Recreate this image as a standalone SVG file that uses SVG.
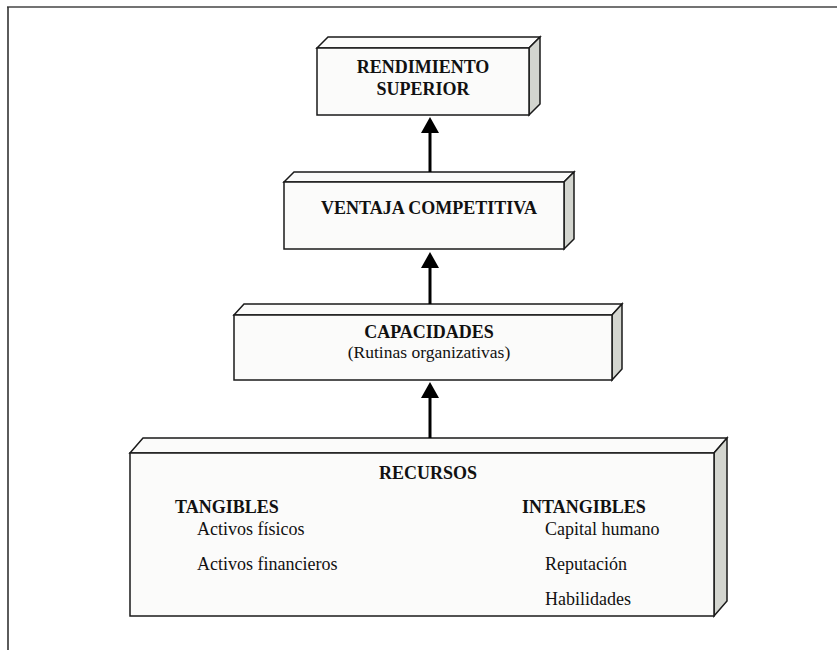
<svg xmlns="http://www.w3.org/2000/svg" width="837" height="650" viewBox="0 0 837 650">
<style>
.front{fill:#fbfbfa;stroke:#1a1a1a;stroke-width:1.5}
.top{fill:#fbfbfa;stroke:#1a1a1a;stroke-width:1.5;stroke-linejoin:miter}
.side{fill:#d3d5cf;stroke:#1a1a1a;stroke-width:1.5}
.t{font-family:"Liberation Serif","Times New Roman",serif;font-size:18px;fill:#111}
.b{font-weight:bold}
.c{text-anchor:middle}
.arr{stroke:#000;stroke-width:3;fill:none}
.head{fill:#000}
</style>
<rect width="837" height="650" fill="#fff"/>
<g id="frame">
<line x1="7" y1="7" x2="837" y2="7" stroke="#444" stroke-width="1.6"/>
<line x1="8" y1="7" x2="8" y2="650" stroke="#333" stroke-width="1.6"/>
</g>
<g id="rendimiento">
<polygon class="top" points="317,48 328,37 540,37 529,48"/>
<polygon class="side" points="529,48 540,37 540,104 529,115"/>
<rect class="front" x="317" y="48" width="212" height="67"/>
<text class="t b c" x="423" y="73">RENDIMIENTO</text>
<text class="t b c" x="423" y="95">SUPERIOR</text>
</g>
<g id="ventaja">
<polygon class="top" points="284,182 294,172 574,172 564,182"/>
<polygon class="side" points="564,182 574,172 574,239 564,249"/>
<rect class="front" x="284" y="182" width="280" height="67"/>
<text class="t b c" x="429" y="214">VENTAJA COMPETITIVA</text>
</g>
<g id="capacidades">
<polygon class="top" points="234,315 244,304 622,304 612,315"/>
<polygon class="side" points="612,315 622,304 622,369 612,380"/>
<rect class="front" x="234" y="315" width="378" height="65"/>
<text class="t b c" x="429" y="338">CAPACIDADES</text>
<text class="t c" x="429" y="358" style="font-size:17.5px">(Rutinas organizativas)</text>
</g>
<g id="recursos">
<polygon class="top" points="130,453 143,438 727,438 714,453"/>
<polygon class="side" points="714,453 727,438 727,601 714,616"/>
<rect class="front" x="130" y="453" width="584" height="163"/>
<text class="t b c" x="428" y="479">RECURSOS</text>
<text class="t b" x="175" y="513">TANGIBLES</text>
<text class="t" x="197" y="535">Activos físicos</text>
<text class="t" x="197" y="570">Activos financieros</text>
<text class="t b" x="522" y="513">INTANGIBLES</text>
<text class="t" x="545" y="535">Capital humano</text>
<text class="t" x="545" y="570">Reputación</text>
<text class="t" x="545" y="605">Habilidades</text>
</g>
<g id="connectors">
<line class="arr" x1="430" y1="172" x2="430" y2="130"/>
<polygon class="head" points="430,117 421,133 439,133"/>
<line class="arr" x1="430" y1="304" x2="430" y2="265"/>
<polygon class="head" points="430,252 421,268 439,268"/>
<line class="arr" x1="430" y1="438" x2="430" y2="395"/>
<polygon class="head" points="430,382 421,398 439,398"/>
</g>
</svg>
